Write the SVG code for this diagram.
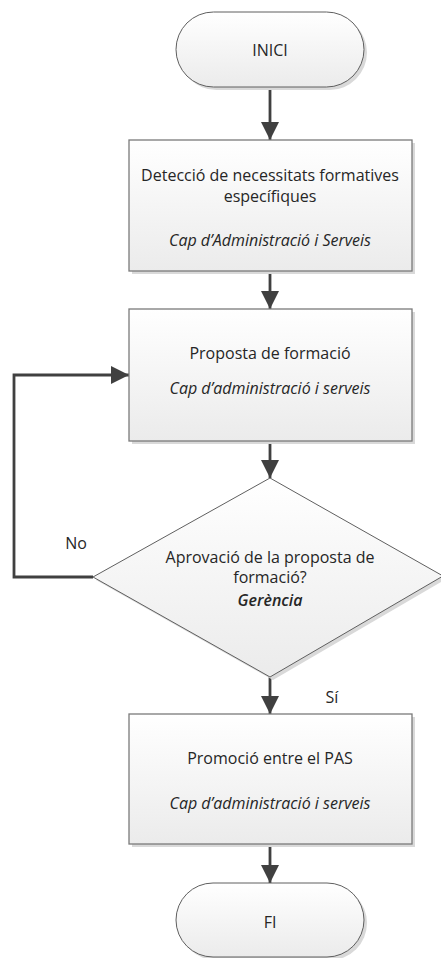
<svg xmlns="http://www.w3.org/2000/svg" width="441" height="958" viewBox="0 0 441 958">
<defs>
<linearGradient id="g" x1="0" y1="0" x2="0" y2="1">
<stop offset="0" stop-color="#ffffff"/>
<stop offset="1" stop-color="#ebebeb"/>
</linearGradient>
<marker id="ah" markerUnits="userSpaceOnUse" markerWidth="18" markerHeight="18" refX="18" refY="9" orient="auto">
<path d="M0,0 L18,9 L0,18 Z" fill="#404040"/>
</marker>
<style>
.shape{fill:url(#g);stroke:#5f5f5f;stroke-width:1}
.box{fill:url(#g);stroke:#7a7a7a;stroke-width:1.3}
.shadow{fill:#d9d9d9;stroke:none}
.t{font-family:"Open Sans","Noto Sans",sans-serif;font-size:16px;fill:#262626;text-anchor:middle}
.i{font-style:italic}
.b{font-weight:600}
.c{fill:none;stroke:#404040;stroke-width:2.8;marker-end:url(#ah)}
</style>
</defs>
<rect width="441" height="958" fill="#ffffff"/>
<g id="connectors">
<path class="c" d="M270,87 L270,140"/>
<path class="c" d="M270,272 L270,309"/>
<path class="c" d="M270,442 L270,478"/>
<path class="c" d="M93,577 L14,577 L14,375 L129,375"/>
<path class="c" d="M270,677 L270,714"/>
<path class="c" d="M270,845 L270,883"/>
<text class="t" x="76" y="549">No</text>
<text class="t" x="332" y="703">Sí</text>
</g>
<g id="inici">
<rect class="shadow" x="179" y="15" width="188" height="75" rx="37.5"/>
<rect class="shape" x="176" y="12" width="188" height="75" rx="37.5"/>
<text class="t" x="270" y="56">INICI</text>
</g>
<g id="deteccio">
<rect class="shadow" x="132" y="143" width="283" height="131"/>
<rect class="box" x="129" y="140" width="283" height="131"/>
<text class="t" x="270" y="181">Detecció de necessitats formatives</text>
<text class="t" x="270" y="202">específiques</text>
<text class="t i" x="270" y="246">Cap d’Administració i Serveis</text>
</g>
<g id="proposta">
<rect class="shadow" x="132" y="312" width="283" height="132"/>
<rect class="box" x="129" y="309" width="283" height="132"/>
<text class="t" x="270" y="359">Proposta de formació</text>
<text class="t i" x="270" y="394">Cap d’administració i serveis</text>
</g>
<g id="aprovacio">
<polygon class="shadow" points="273,481 446,579 273,680 96,580"/>
<polygon class="shape" points="270,478 443,576 270,677 93,577"/>
<text class="t" x="270" y="563">Aprovació de la proposta de</text>
<text class="t" x="270" y="583">formació?</text>
<text class="t i b" x="270" y="606">Gerència</text>
</g>
<g id="promocio">
<rect class="shadow" x="132" y="717" width="283" height="130"/>
<rect class="box" x="129" y="714" width="283" height="130"/>
<text class="t" x="270" y="764">Promoció entre el PAS</text>
<text class="t i" x="270" y="809">Cap d’administració i serveis</text>
</g>
<g id="fi">
<rect class="shadow" x="179" y="886" width="188" height="74" rx="37"/>
<rect class="shape" x="176" y="883" width="188" height="74" rx="37"/>
<text class="t" x="270" y="928">FI</text>
</g>
</svg>
